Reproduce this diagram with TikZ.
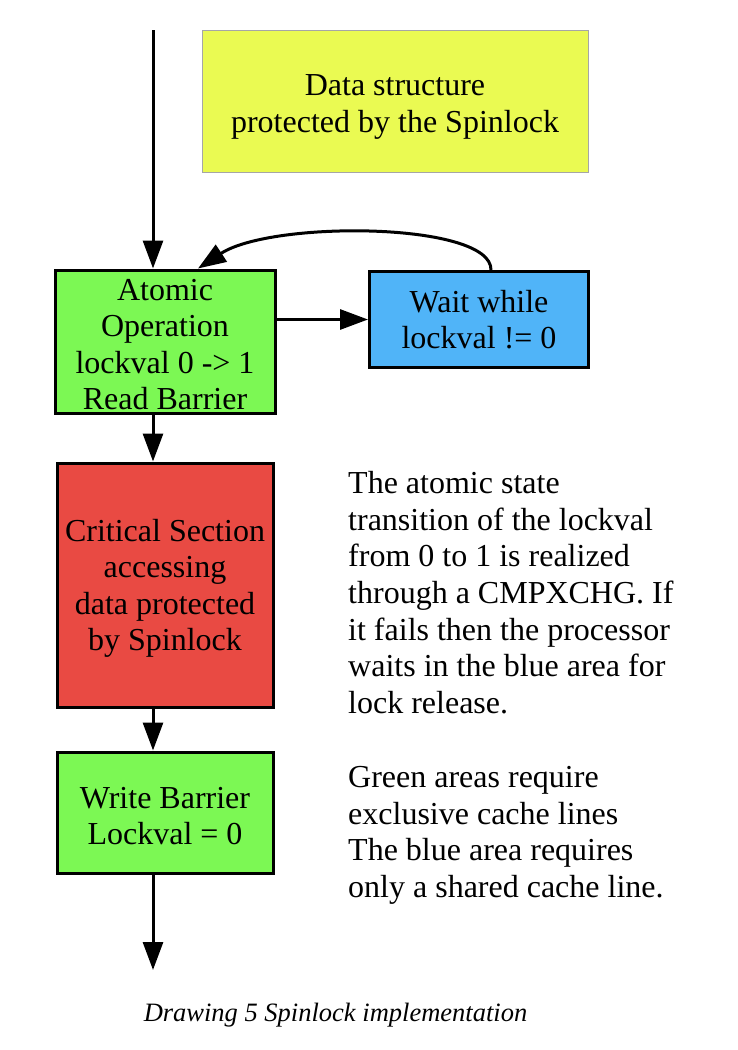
\documentclass[tikz,border=0pt]{standalone}
\usepackage{fontspec}
\setmainfont{Liberation Serif}
\usepackage{xcolor}
\usetikzlibrary{arrows.meta}

\definecolor{datayellow}{RGB}{234,250,82}
\definecolor{opgreen}{RGB}{124,248,84}
\definecolor{waitblue}{RGB}{80,180,248}
\definecolor{critred}{RGB}{233,74,67}

% taller first line, pushes the box text down a little
\newcommand{\firstgap}[1]{\rule{0pt}{#1pt}}

\begin{document}
\begin{tikzpicture}[x=1pt,y=-1pt,
    box/.style={draw=black, line width=3pt, align=center, inner sep=0pt,
        font=\fontsize{32}{36.5}\selectfont},
    note/.style={align=left, inner sep=0pt, anchor=north west,
        font=\fontsize{32}{36.7}\selectfont},
    flow/.style={line width=3pt, -{Triangle[length=28pt,width=20pt]}}]
    \useasboundingbox (0,0) rectangle (738,1050);

    % Boxes
    \node[box, draw=gray!70, line width=1pt, fill=datayellow,
        minimum width=386, minimum height=142] (data) at (395,101)
        {\firstgap{33}Data structure\\protected by the Spinlock};
    \node[box, fill=opgreen, minimum width=220, minimum height=143] (atomic) at (165,341.5)
        {\firstgap{27}Atomic\\Operation\\lockval 0 -> 1\\Read Barrier};
    \node[box, fill=waitblue, minimum width=219, minimum height=96] (wait) at (479,319.5)
        {Wait while\\lockval != 0};
    \node[box, fill=critred, minimum width=216, minimum height=244] (critical) at (165,585)
        {\firstgap{29}Critical Section\\accessing\\data protected\\by Spinlock};
    \node[box, fill=opgreen, minimum width=216, minimum height=121] (write) at (165,812.5)
        {\firstgap{28}Write Barrier\\Lockval = 0};

    % Entry and exit
    \coordinate (entry) at (153,30);
    \coordinate (exit) at (153,970);

    % Connectors
    \draw[flow] (entry) -- (entry |- atomic.north);
    \draw[flow] (atomic.east |- wait.west) -- (wait.west);
    \draw[flow] ([xshift=12]wait.north) .. controls (492,222) and (272,220) .. ([xshift=33]atomic.north);
    \draw[flow] (atomic.south -| entry) -- (critical.north -| entry);
    \draw[flow] (critical.south -| entry) -- (write.north -| entry);
    \draw[flow] (write.south -| entry) -- (exit);

    % Notes
    \node[note] (explain) at (348,471)
        {The atomic state\\transition of the lockval\\from 0 to 1 is realized\\through a CMPXCHG. If\\it fails then the processor\\waits in the blue area for\\lock release.};
    \node[note] (cache) at (348,766)
        {Green areas require\\exclusive cache lines\\The blue area requires\\only a shared cache line.};

    % Caption
    \node[anchor=base, inner sep=0pt, font=\fontsize{26.5}{30}\selectfont\itshape] (caption)
        at (335.5,1021) {Drawing 5 Spinlock implementation};
\end{tikzpicture}
\end{document}
